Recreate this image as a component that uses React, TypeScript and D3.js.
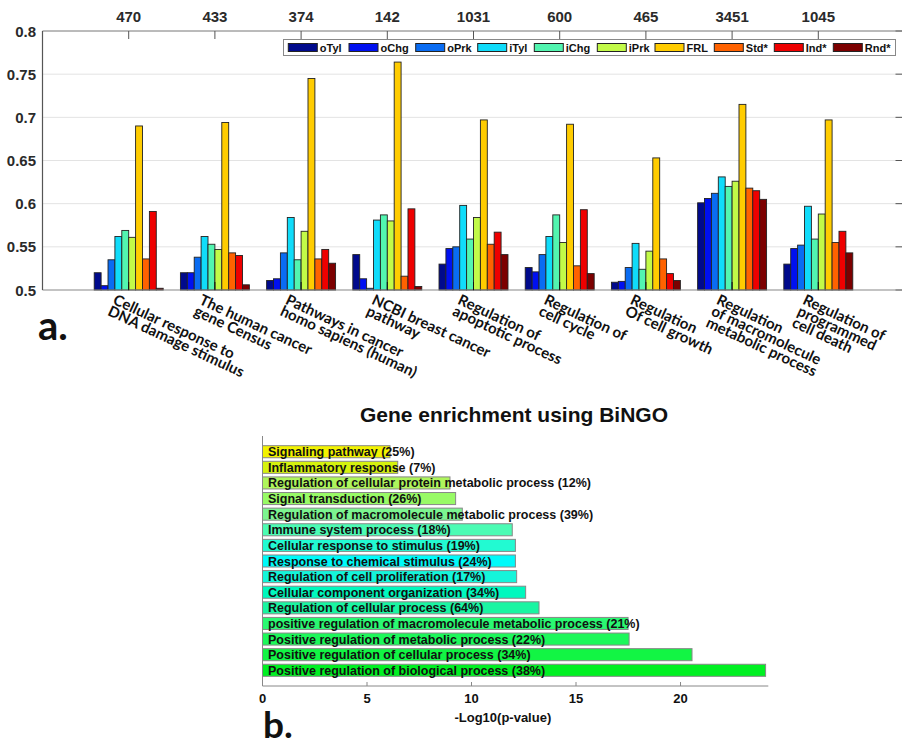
import React from "react";
import * as d3 from "d3";

// ---------- Data: panel a ----------
const categoryLines: string[][] = [
  ["Cellular response to", "DNA damage stimulus"],
  ["The human cancer", "gene Census"],
  ["Pathways in cancer", "homo sapiens (human)"],
  ["NCBI breast cancer", "pathway"],
  ["Regulation of", "apoptotic process"],
  ["Regulation of", "cell cycle"],
  ["Regulation", "Of cell growth"],
  ["Regulation", "of macromolecule", "metabolic process"],
  ["Regulation of", "programmed", "cell death"],
];
const geneCounts = ["470", "433", "374", "142", "1031", "600", "465", "3451", "1045"];
const seriesNames = ["oTyl", "oChg", "oPrk", "iTyl", "iChg", "iPrk", "FRL", "Std*", "Ind*", "Rnd*"];
const seriesColors = ["#000a8c", "#0010f0", "#0a6cf2", "#10dcfa", "#52f5b0", "#c2fa48", "#ffcc00", "#ff6200", "#ee0000", "#7c0000"];
const oTyl = [0.520, 0.520, 0.511, 0.541, 0.530, 0.526, 0.509, 0.601, 0.530];
const oChg = [0.505, 0.520, 0.513, 0.513, 0.548, 0.521, 0.510, 0.606, 0.548];
const oPrk = [0.535, 0.538, 0.543, 0.502, 0.550, 0.541, 0.526, 0.612, 0.552];
const iTyl = [0.562, 0.562, 0.584, 0.581, 0.598, 0.562, 0.554, 0.631, 0.597];
const iChg = [0.569, 0.553, 0.535, 0.587, 0.559, 0.587, 0.524, 0.620, 0.559];
const iPrk = [0.561, 0.547, 0.568, 0.580, 0.584, 0.555, 0.545, 0.626, 0.588];
const FRL = [0.690, 0.694, 0.745, 0.764, 0.697, 0.692, 0.653, 0.715, 0.697];
const Std = [0.536, 0.543, 0.536, 0.516, 0.553, 0.528, 0.536, 0.618, 0.555];
const Ind = [0.591, 0.540, 0.547, 0.594, 0.567, 0.593, 0.519, 0.615, 0.568];
const Rnd = [0.502, 0.506, 0.531, 0.504, 0.541, 0.519, 0.511, 0.605, 0.543];
const seriesValues = [oTyl, oChg, oPrk, iTyl, iChg, iPrk, FRL, Std, Ind, Rnd];
const yTicksA = [0.5, 0.55, 0.6, 0.65, 0.7, 0.75, 0.8];

// ---------- Data: panel b ----------
const terms = [
  "Signaling pathway (25%)",
  "Inflammatory response (7%)",
  "Regulation of cellular protein metabolic process (12%)",
  "Signal transduction (26%)",
  "Regulation of macromolecule metabolic process (39%)",
  "Immune system process (18%)",
  "Cellular response to stimulus (19%)",
  "Response to chemical stimulus (24%)",
  "Regulation of cell proliferation (17%)",
  "Cellular component organization (34%)",
  "Regulation of cellular process (64%)",
  "positive regulation of macromolecule metabolic process (21%)",
  "Positive regulation of metabolic process (22%)",
  "Positive regulation of cellular process (34%)",
  "Positive regulation of biological process (38%)",
];
const logP = [6.10, 6.47, 8.97, 9.24, 9.56, 11.95, 12.10, 12.10, 12.16, 12.59, 13.23, 17.49, 17.54, 20.55, 24.07];
const termColors = [
  "#f2f200", "#d6f20e", "#aef55c", "#98fa66", "#7cf590", "#4cfcb4", "#22fad2", "#00fafa",
  "#14f5da", "#00f8be", "#1af5a2", "#2af872", "#1cf85a", "#12f544", "#00f022",
];
const xTicksB = [0, 5, 10, 15, 20];

export default function App() {
  // panel a scales
  const xA = d3.scaleLinear().domain([0, 10]).range([42.5, 904.5]);
  const yA = d3.scaleLinear().domain([0.5, 0.8]).range([290, 31]);
  const groupWidth = 0.8;
  const barW = groupWidth / seriesNames.length;

  // panel b scales
  const xB = d3.scaleLinear().domain([0, 24.2]).range([262.5, 768.3]);
  const yB = d3.scaleBand<string>().domain(terms).range([436, 686]).paddingInner(0.228).paddingOuter(0.62);

  const sans = "'Liberation Sans', Arial, Helvetica, sans-serif";
  const human = "Lato, 'Open Sans', sans-serif";

  const legendX = [288.3, 349, 415.7, 477.7, 534.3, 597.3, 655, 714.3, 774.3, 833.3];

  return (
    <svg width={902} height={745} style={{ position: "absolute", left: 0, top: 0, background: "#fff" }}>
      <rect x={0} y={0} width={902} height={745} fill="#fff" />
      {/* ---------- Panel a ---------- */}
      {yTicksA.filter((t) => t > 0.5 && t < 0.8).map((t) => (
        <line key={"g" + t} x1={xA(0)} x2={xA(10)} y1={yA(t)} y2={yA(t)} stroke="#e3e3e3" strokeWidth={1} />
      ))}
      {yTicksA.map((t) => (
        <line key={"rt" + t} x1={xA(10) - 9} x2={xA(10)} y1={yA(t)} y2={yA(t)} stroke="#555" strokeWidth={1} />
      ))}
      {seriesValues.map((vals, s) =>
        vals.map((v, g) => {
          const x0 = g + 1 - groupWidth / 2 + s * barW;
          return (
            <rect
              key={`b${s}-${g}`}
              x={xA(x0)}
              y={yA(v)}
              width={xA(x0 + barW) - xA(x0)}
              height={yA(0.5) - yA(v)}
              fill={seriesColors[s]}
              stroke="#222"
              strokeWidth={0.9}
            />
          );
        })
      )}
      {/* axes */}
      <line x1={xA(0)} x2={xA(10)} y1={yA(0.8)} y2={yA(0.8)} stroke="#777" strokeWidth={1} />
      <line x1={xA(0)} x2={xA(10)} y1={yA(0.5)} y2={yA(0.5)} stroke="#888" strokeWidth={1.2} />
      <line x1={xA(0)} x2={xA(0)} y1={yA(0.8)} y2={yA(0.5)} stroke="#555" strokeWidth={1.2} />
      <line x1={xA(10)} x2={xA(10)} y1={yA(0.8)} y2={yA(0.5)} stroke="#555" strokeWidth={1.2} />
      {geneCounts.map((c, i) => (
        <g key={"tt" + i}>
          <line x1={xA(i + 1)} x2={xA(i + 1)} y1={yA(0.8)} y2={yA(0.8) + 8} stroke="#555" strokeWidth={1} />
          <line x1={xA(i + 1)} x2={xA(i + 1)} y1={yA(0.5)} y2={yA(0.5) - 8} stroke="#111" strokeWidth={1} />
          <text x={xA(i + 1)} y={22} textAnchor="middle" fontFamily={sans} fontWeight="bold" fontSize={15} fill="#2a2a2a">
            {c}
          </text>
        </g>
      ))}
      {yTicksA.map((t) => (
        <text key={"yl" + t} x={36} y={yA(t) + 5.5} textAnchor="end" fontFamily={sans} fontWeight="bold" fontSize={15} fill="#2a2a2a">
          {String(t)}
        </text>
      ))}
      {/* legend */}
      <rect x={283.5} y={39.5} width={612} height={16} fill="#fff" stroke="#888" strokeWidth={1} />
      {seriesNames.map((n, i) => (
        <g key={"lg" + i}>
          <rect x={legendX[i]} y={43.5} width={29} height={8} fill={seriesColors[i]} stroke="#222" strokeWidth={1} />
          <text x={legendX[i] + 31.5} y={51.5} fontFamily={sans} fontWeight="bold" fontSize={11} fill="#111">
            {n}
          </text>
        </g>
      ))}
      {/* rotated category labels */}
      {categoryLines.map((lines, i) => (
        <text
          key={"cl" + i}
          transform={`translate(${xA(i + 1) - 12},${293.5}) rotate(25)`}
          fontFamily={human}
          fontWeight="bold"
          fontSize={15}
          fill="#111"
        >
          {lines.map((ln, j) => (
            <tspan key={j} x={0} dy={j === 0 ? 11 : 12.5}>
              {ln}
            </tspan>
          ))}
        </text>
      ))}
      <text x={38} y={340} fontFamily={human} fontWeight="bold" fontSize={40} fill="#111">
        a.
      </text>

      {/* ---------- Panel b ---------- */}
      <text x={514} y={421.5} textAnchor="middle" fontFamily={sans} fontWeight="bold" fontSize={21} fill="#111">
        Gene enrichment using BiNGO
      </text>
      {terms.map((t, i) => (
        <rect
          key={"bb" + i}
          x={xB(0)}
          y={yB(t)}
          width={xB(logP[i]) - xB(0)}
          height={yB.bandwidth()}
          fill={termColors[i]}
          stroke="#888"
          strokeWidth={1}
        />
      ))}
      {terms.map((t, i) => (
        <text
          key={"bt" + i}
          x={xB(0) + 5.5}
          y={(yB(t) as number) + yB.bandwidth() / 2 + 4.5}
          fontFamily={sans}
          fontWeight="bold"
          fontSize={12.5}
          fill="#111"
        >
          {t}
        </text>
      ))}
      <line x1={xB(0)} x2={xB(0)} y1={436} y2={686} stroke="#888" strokeWidth={1} />
      <line x1={xB(0)} x2={xB(24.2)} y1={686} y2={686} stroke="#888" strokeWidth={1} />
      {xTicksB.map((t) => (
        <g key={"xb" + t}>
          <line x1={xB(t)} x2={xB(t)} y1={686} y2={682} stroke="#888" strokeWidth={1} />
          <text x={xB(t)} y={703} textAnchor="middle" fontFamily={sans} fontWeight="bold" fontSize={13} fill="#111">
            {String(t)}
          </text>
        </g>
      ))}
      <text x={xB(11.5)} y={722} textAnchor="middle" fontFamily={sans} fontWeight="bold" fontSize={13} fill="#111">
        -Log10(p-value)
      </text>
      <text x={263} y={738} fontFamily={human} fontWeight="bold" fontSize={37} fill="#111">
        b.
      </text>
    </svg>
  );
}
